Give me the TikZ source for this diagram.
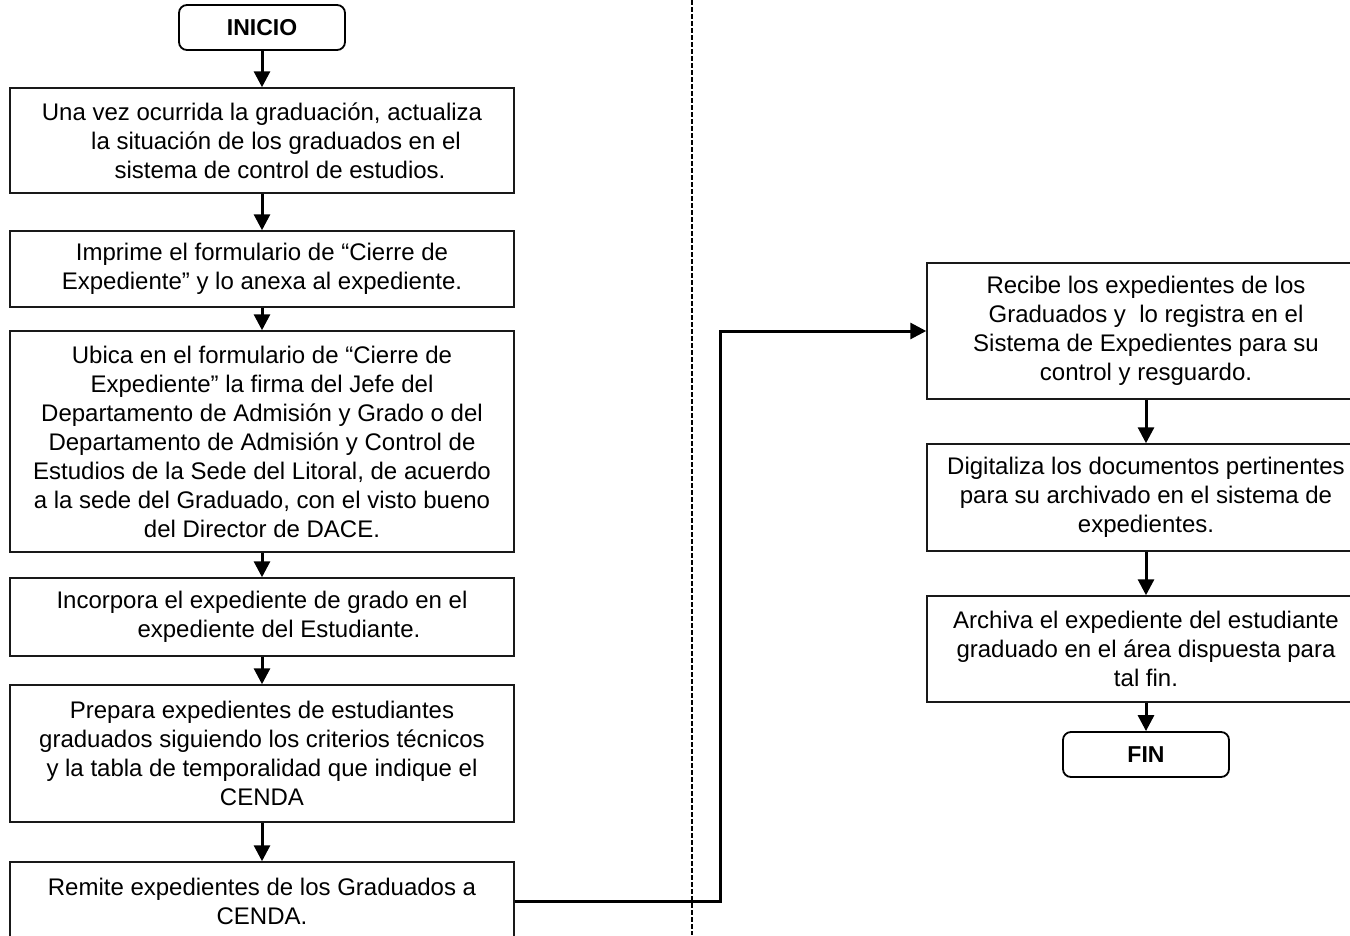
\documentclass[tikz,border=0pt]{standalone}
\usepackage{fontspec}
\setmainfont{Liberation Sans}
\usetikzlibrary{arrows.meta}
\begin{document}
\begin{tikzpicture}[x=1pt,y=-1pt,
  every node/.style={font=\fontsize{24}{29}\selectfont, align=center, inner sep=0pt},
  stepbox/.style={draw=black!90, line width=1.5pt, rectangle, minimum width=504pt},
  rbox/.style={draw=black!90, line width=1.5pt, rectangle, minimum width=438pt},
  term/.style={draw=black, line width=1.8pt, rounded corners=8pt, minimum width=166pt,
    minimum height=45pt, font=\fontsize{23}{27}\selectfont\bfseries},
  flow/.style={line width=3pt, -{Triangle[length=16pt,width=16pt]}},
  lane/.style={line width=1.8pt, dash pattern=on 4.5pt off 2.5pt},
]
\useasboundingbox (0,0) rectangle (1350,935);
\clip (0,0) rectangle (1350,935);

% lane divider
\coordinate (laneTop) at (692,0);
\coordinate (laneBot) at (692,935);
\draw[lane] (laneTop) -- (laneBot);

% left lane
\node[term] (inicio) at (262,27.5) {INICIO};
\node[stepbox, minimum height=105pt] (b1) at (262,140.5)
  {Una vez ocurrida la graduación, actualiza\\
   \hspace*{28pt}la situación de los graduados en el\\
   \hspace*{36pt}sistema de control de estudios.};
\node[stepbox, minimum height=76pt] (b2) at (262,269)
  {Imprime el formulario de “Cierre de\\Expediente” y lo anexa al expediente.};
\node[stepbox, minimum height=221pt] (b3) at (262,441.5)
  {Ubica en el formulario de “Cierre de\\
   Expediente” la firma del Jefe del\\
   Departamento de Admisión y Grado o del\\
   Departamento de Admisión y Control de\\
   Estudios de la Sede del Litoral, de acuerdo\\
   a la sede del Graduado, con el visto bueno\\
   del Director de DACE.};
\node[stepbox, minimum height=78pt] (b4) at (262,617)
  {Incorpora el expediente de grado en el\\
   \hspace*{34pt}expediente del Estudiante.};
\node[stepbox, minimum height=137pt] (b5) at (262,753.5)
  {Prepara expedientes de estudiantes\\
   graduados siguiendo los criterios técnicos\\
   y la tabla de temporalidad que indique el\\
   CENDA};
\node[stepbox, minimum height=78pt] (b6) at (262,901)
  {Remite expedientes de los Graduados a\\CENDA.};

% right lane
\node[rbox, minimum height=136pt] (r1) at (1146,331)
  {Recibe los expedientes de los\\
   Graduados y~ lo registra en el\\
   Sistema de Expedientes para su\\
   control y resguardo.};
\node[rbox, minimum height=107pt] (r2) at (1146,497.5)
  {Digitaliza los documentos pertinentes\\
   para su archivado en el sistema de\\
   expedientes.};
\node[rbox, minimum height=106pt] (r3) at (1146,649)
  {Archiva el expediente del estudiante\\
   graduado en el área dispuesta para\\
   tal fin.};
\node[term] (fin) at (1146,754.5) {FIN};

% connectors
\draw[flow] (inicio.south) -- (b1.north);
\draw[flow] (b1.south) -- (b2.north);
\draw[flow] (b2.south) -- (b3.north);
\draw[flow] (b3.south) -- (b4.north);
\draw[flow] (b4.south) -- (b5.north);
\draw[flow] (b5.south) -- (b6.north);

\coordinate (bend) at (720,0);
\draw[flow] (b6.east) -- (b6.east -| bend) -- (bend |- r1.west) -- (r1.west);

\draw[flow] (r1.south) -- (r2.north);
\draw[flow] (r2.south) -- (r3.north);
\draw[flow] (r3.south) -- (fin.north);
\end{tikzpicture}
\end{document}
